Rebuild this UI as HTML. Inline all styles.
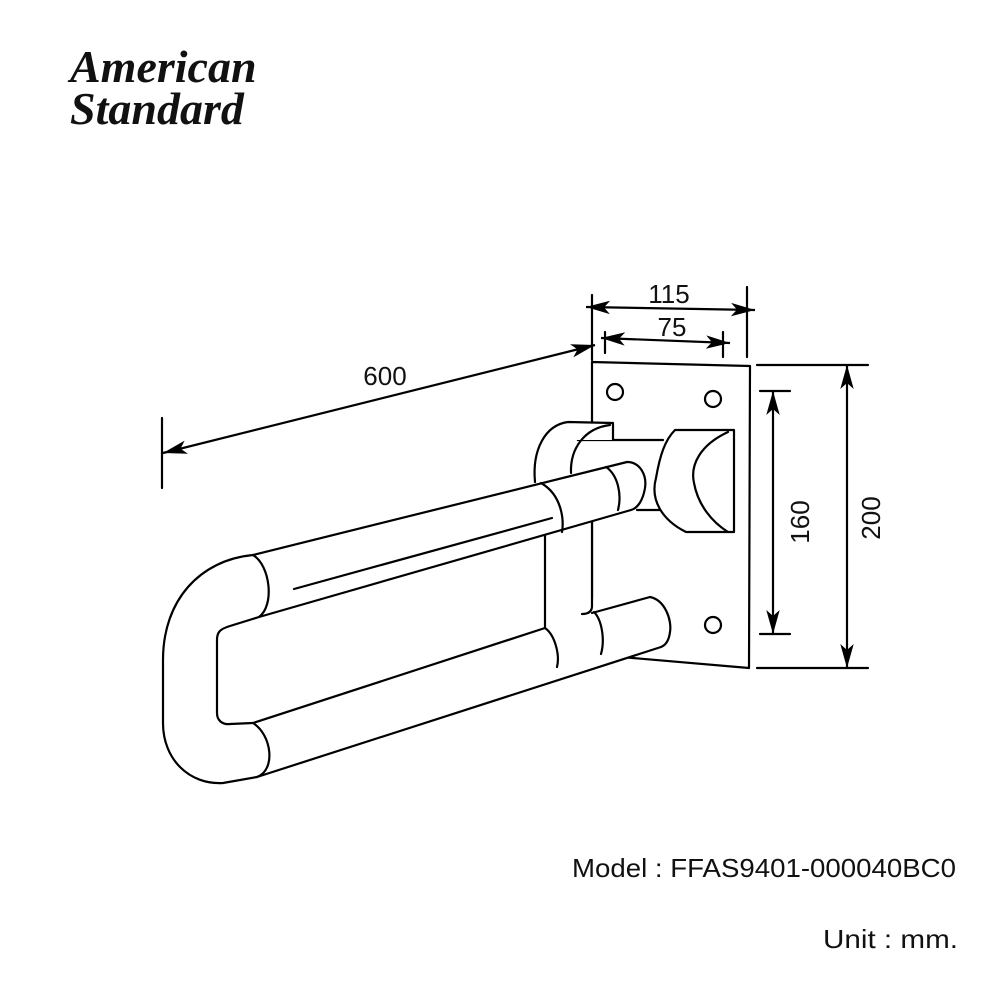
<!DOCTYPE html>
<html><head><meta charset="utf-8"><style>
html,body{margin:0;padding:0;background:#fff;}
svg{display:block;}
</style></head><body>
<svg width="1000" height="1000" viewBox="0 0 1000 1000" xmlns="http://www.w3.org/2000/svg">
<defs>
<marker id="b" viewBox="0 0 10 10" refX="10" refY="5" markerWidth="24" markerHeight="24" orient="auto-start-reverse" markerUnits="userSpaceOnUse"><path d="M0,2.2 L10,5 L0,7.8 L2.5,5 Z" fill="#000"/></marker>
</defs>
<!-- logo -->
<text x="70" y="82" font-family="Liberation Serif, serif" font-style="italic" font-weight="bold" font-size="46" fill="#111">American</text>
<text x="70" y="124" font-family="Liberation Serif, serif" font-style="italic" font-weight="bold" font-size="46" fill="#111">Standard</text>

<g fill="none" stroke="#000" stroke-width="2.2" stroke-linejoin="round" stroke-linecap="round">
<!-- plate -->
<path d="M592,598 L592,362 L750,366 L749,668 L621,657" fill="#fff"/>
<circle cx="615" cy="392" r="8"/>
<circle cx="713" cy="399" r="8"/>
<circle cx="713" cy="625" r="8"/>

<!-- wall flange pipe -->
<rect x="577" y="440" width="86" height="70" fill="#fff" stroke="none"/>
<path d="M577,440 L663,440 M637,510 L663,510"/>
<!-- collar bracket -->
<path d="M535,482 C532,450 545,425 568,422 L613,423 L613,440 L577,440 L571,473 Z" fill="#fff" stroke="none"/>
<path d="M535,482 C532,450 545,425 568,422 L613,423 L613,440"/>
<path d="M571,473 C570,448 585,428 610,425"/>
<!-- flange -->
<path d="M675,430 L734,430 L734,532 L686,532 C662,520 650,500 656,478 C660,455 665,440 675,430 Z" fill="#fff"/>
<path d="M728,432 C700,445 690,465 694,483 C698,505 712,522 728,532"/>

<!-- vertical bar -->
<rect x="545" y="520" width="47" height="108" fill="#fff" stroke="none"/>
<path d="M545,535 L545,628 M592,520 L592,606 C592,612 588,614 582,614" />

<!-- U bar fill -->
<path d="M627,462 L253,555 C200,560 163,600 163,660 L163,723 C163,760 190,785 223,783 L257,777 L661,647 C672,630 665,600 650,597 L592,613 L545,628 L253,723 L230,724 C222,725 217,720 217,713 L217,640 C217,632 220,629 230,626 L259,617 L631,510 C645,500 647,470 627,462 Z" fill="#fff" stroke="none"/>
<!-- U bar outer -->
<path d="M627,462 L253,555 C200,560 163,600 163,660 L163,723 C163,760 190,785 223,783 L257,777 L661,647"/>
<path d="M631,510 L259,617 L230,626 C220,629 217,632 217,640 L217,713 C217,720 222,725 230,724 L253,723 L545,628"/>
<path d="M592,613 L650,597"/>
<path d="M253,555 C270,565 275,605 259,617"/>
<path d="M253,723 C272,735 276,770 257,777"/>
<path d="M294,589 L552,518"/>
<path d="M541,483 C562,495 564,520 562,532"/>
<path d="M606,467 C618,475 622,495 618,510"/>
<path d="M627,462 C640,462 647,475 645,488 C643,500 638,508 631,510"/>
<path d="M545,628 C555,635 560,655 557,667"/>
<path d="M594,612 C602,620 605,640 601,654"/>
<path d="M650,597 C665,600 672,620 670,632 C669,640 666,645 661,647"/>

<!-- dimension lines -->
<line x1="162" y1="418" x2="162" y2="488"/>
<line x1="592" y1="295" x2="592" y2="360"/>
<line x1="747" y1="287" x2="747" y2="357"/>
<line x1="605" y1="332" x2="605" y2="353"/>
<line x1="723" y1="332" x2="723" y2="357"/>
<line x1="757" y1="365" x2="868" y2="365"/>
<line x1="757" y1="668" x2="868" y2="668"/>
<line x1="760" y1="391" x2="790" y2="391"/>
<line x1="760" y1="634" x2="790" y2="634"/>
</g>
<g stroke="#000" stroke-width="2.2" fill="none">
<line x1="163" y1="453" x2="595" y2="345" marker-start="url(#b)" marker-end="url(#b)"/>
<line x1="586" y1="307" x2="755" y2="310" marker-start="url(#b)" marker-end="url(#b)"/>
<line x1="601" y1="338" x2="730" y2="343" marker-start="url(#b)" marker-end="url(#b)"/>
<line x1="773" y1="391" x2="773" y2="634" marker-start="url(#b)" marker-end="url(#b)"/>
<line x1="847" y1="365" x2="847" y2="668" marker-start="url(#b)" marker-end="url(#b)"/>
</g>
<g font-family="Liberation Sans, sans-serif" font-size="26" fill="#111" text-anchor="middle">
<text x="385" y="385">600</text>
<text x="669" y="303">115</text>
<text x="672" y="336">75</text>
<text transform="translate(809,522) rotate(-90)">160</text>
<text transform="translate(880,518) rotate(-90)">200</text>
</g>
<g font-family="Liberation Sans, sans-serif" font-size="26" fill="#111">
<text x="572" y="877" textLength="384" lengthAdjust="spacingAndGlyphs">Model : FFAS9401-000040BC0</text>
<text x="823" y="948" textLength="135" lengthAdjust="spacingAndGlyphs">Unit : mm.</text>
</g>
</svg>
</body></html>
